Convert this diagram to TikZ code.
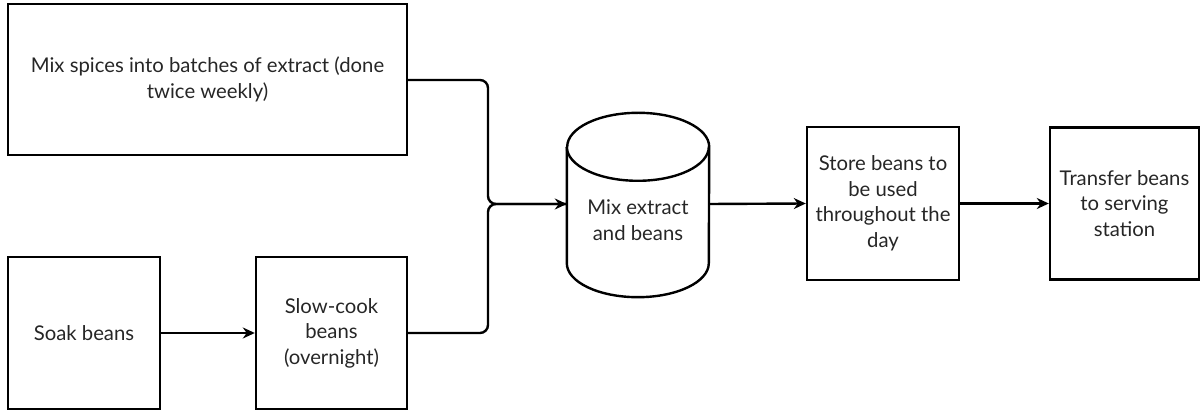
\documentclass[tikz,border=0pt]{standalone}
\usepackage{fontspec}
\setmainfont{Lato}
\usetikzlibrary{arrows.meta}
\begin{document}
\begin{tikzpicture}[x=1pt,y=1pt,
  every node/.style={font=\fontsize{20.3}{25.5}\selectfont, text=black!85, align=center},
  stepbox/.style={draw, line width=2.4pt, minimum width=#1, inner sep=0pt},
  flow/.style={draw, line width=2.4pt, -{Stealth[length=12pt,width=11pt]}},
  mergeline/.style={draw, line width=2.4pt, rounded corners=8pt}]
  % page area
  \useasboundingbox (0,0) rectangle (1201,412);

  % process steps
  \node[stepbox=399pt, minimum height=151pt] (mix) at (207.5,332.5)
    {Mix spices into batches of extract (done\\twice weekly)};
  \node[stepbox=152pt, minimum height=152pt] (soak) at (84,79) {Soak beans};
  \node[stepbox=151pt, minimum height=152pt] (cook) at (331.5,79)
    {Slow-cook\\beans\\(overnight)};
  \node[stepbox=152pt, minimum height=153pt] (store) at (883,208.5)
    {Store beans to\\be used\\throughout the\\day};
  \node[stepbox=149pt, minimum height=152pt] (transfer) at (1124.5,208.5)
    {Transfer beans\\to serving\\station};

  % mixing vessel (cylinder)
  \node[minimum width=142pt, minimum height=184pt, inner sep=0pt] (cyl) at (638,207) {};
  \node at ([yshift=-15pt]cyl.center) {Mix extract\\and beans};
  \draw[line width=2.4pt]
    ([yshift=-34pt]cyl.north west) -- ([yshift=34pt]cyl.south west)
    arc[start angle=180, end angle=360, x radius=71pt, y radius=34pt]
    -- ([yshift=-34pt]cyl.north east)
    arc[start angle=0, end angle=180, x radius=71pt, y radius=34pt];
  \draw[line width=2.4pt] ([yshift=-34pt]cyl.north west)
    arc[start angle=180, end angle=360, x radius=71pt, y radius=34pt];

  % junction point in front of the vessel
  \coordinate (jn) at (488,208);

  % connectors
  \draw[mergeline] (mix.east |- 0,332) -- (jn |- 0,332) -- (jn) -- (cyl.west |- jn);
  \draw[mergeline] (cook.east) -- (jn |- cook.east) -- (jn) -- (cyl.west |- jn);
  \draw[flow] ([xshift=10pt]jn) -- (cyl.west |- jn);
  \draw[flow] (soak.east) -- (cook.west);
  \draw[flow] (cyl.east |- jn) -- (store.west);
  \draw[flow] (store.east) -- (transfer.west);
\end{tikzpicture}
\end{document}
